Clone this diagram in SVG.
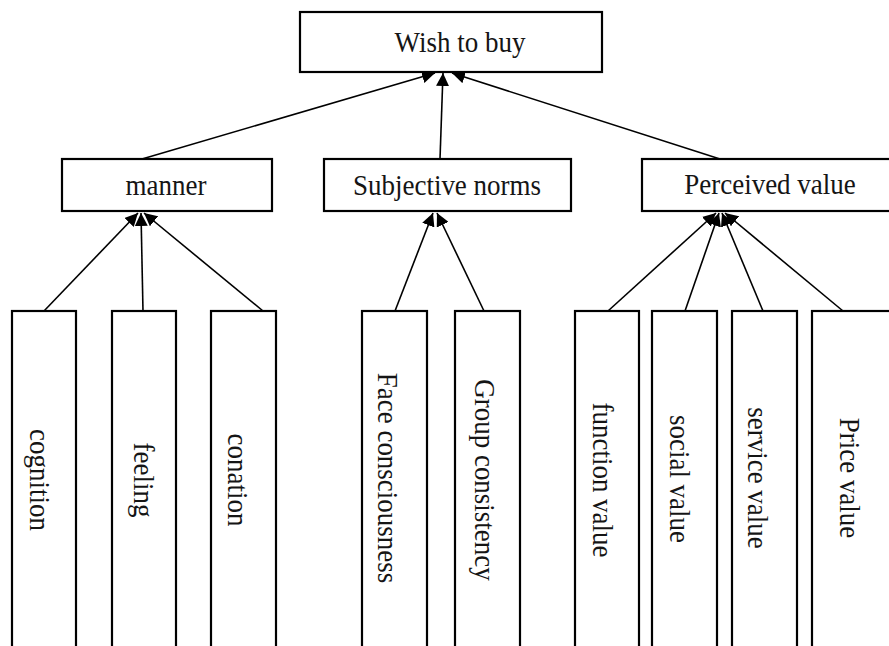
<svg xmlns="http://www.w3.org/2000/svg" width="889" height="646" viewBox="0 0 889 646">
<style>
.box{fill:#fff;stroke:#000;stroke-width:2.2}
.lbl{font-family:"Liberation Serif","Times New Roman",serif;font-size:30px;fill:#151515;text-anchor:middle}
.edge{stroke:#000;stroke-width:1.6;fill:none;marker-end:url(#arr)}
</style>
<defs>
<marker id="arr" markerUnits="userSpaceOnUse" markerWidth="13" markerHeight="13" viewBox="0 0 12 12" refX="12" refY="6" orient="auto">
<path d="M0,0 L12,6 L0,12 z" fill="#000"/>
</marker>
</defs>
<rect width="889" height="646" fill="#fff"/>
<g id="edges">
<line class="edge" x1="142" y1="159" x2="435" y2="73"/>
<line class="edge" x1="440" y1="159" x2="443" y2="73"/>
<line class="edge" x1="720" y1="159" x2="452" y2="73"/>
<line class="edge" x1="44" y1="311" x2="138" y2="213"/>
<line class="edge" x1="143" y1="311" x2="141" y2="213"/>
<line class="edge" x1="263" y1="311" x2="144" y2="213"/>
<line class="edge" x1="395" y1="311" x2="433" y2="213"/>
<line class="edge" x1="484" y1="311" x2="437" y2="213"/>
<line class="edge" x1="608" y1="311" x2="716" y2="213"/>
<line class="edge" x1="685" y1="311" x2="719" y2="213"/>
<line class="edge" x1="763" y1="311" x2="722" y2="213"/>
<line class="edge" x1="843" y1="311" x2="725" y2="213"/>
</g>
<g id="wish"><rect class="box" x="300" y="12" width="302" height="60"/><text class="lbl" transform="translate(460,52) scale(0.9,1)">Wish to buy</text></g>
<g id="manner"><rect class="box" x="62" y="159" width="210" height="52"/><text class="lbl" transform="translate(166,195) scale(0.9,1)">manner</text></g>
<g id="subjective"><rect class="box" x="324" y="159" width="247" height="52"/><text class="lbl" transform="translate(447,195) scale(0.9,1)">Subjective norms</text></g>
<g id="perceived"><rect class="box" x="642" y="159" width="260" height="52"/><text class="lbl" transform="translate(770,194) scale(0.9,1)">Perceived value</text></g>
<g id="cognition"><rect class="box" x="12" y="311" width="64" height="350"/><text class="lbl" transform="translate(30,480) rotate(90) scale(0.9,1)">cognition</text></g>
<g id="feeling"><rect class="box" x="112" y="311" width="64" height="350"/><text class="lbl" transform="translate(134,480) rotate(90) scale(0.9,1)">feeling</text></g>
<g id="conation"><rect class="box" x="211" y="311" width="65" height="350"/><text class="lbl" transform="translate(228,480) rotate(90) scale(0.9,1)">conation</text></g>
<g id="face"><rect class="box" x="362" y="311" width="65" height="350"/><text class="lbl" transform="translate(378,478) rotate(90) scale(0.9,1)">Face consciousness</text></g>
<g id="group"><rect class="box" x="455" y="311" width="65" height="350"/><text class="lbl" transform="translate(475,480) rotate(90) scale(0.9,1)">Group consistency</text></g>
<g id="function"><rect class="box" x="575" y="311" width="64" height="350"/><text class="lbl" transform="translate(593,480) rotate(90) scale(0.9,1)">function value</text></g>
<g id="social"><rect class="box" x="652" y="311" width="65" height="350"/><text class="lbl" transform="translate(670,479) rotate(90) scale(0.9,1)">social value</text></g>
<g id="service"><rect class="box" x="732" y="311" width="65" height="350"/><text class="lbl" transform="translate(748,478) rotate(90) scale(0.9,1)">service value</text></g>
<g id="price"><rect class="box" x="812" y="311" width="90" height="350"/><text class="lbl" transform="translate(840,478) rotate(90) scale(0.9,1)">Price value</text></g>
</svg>
